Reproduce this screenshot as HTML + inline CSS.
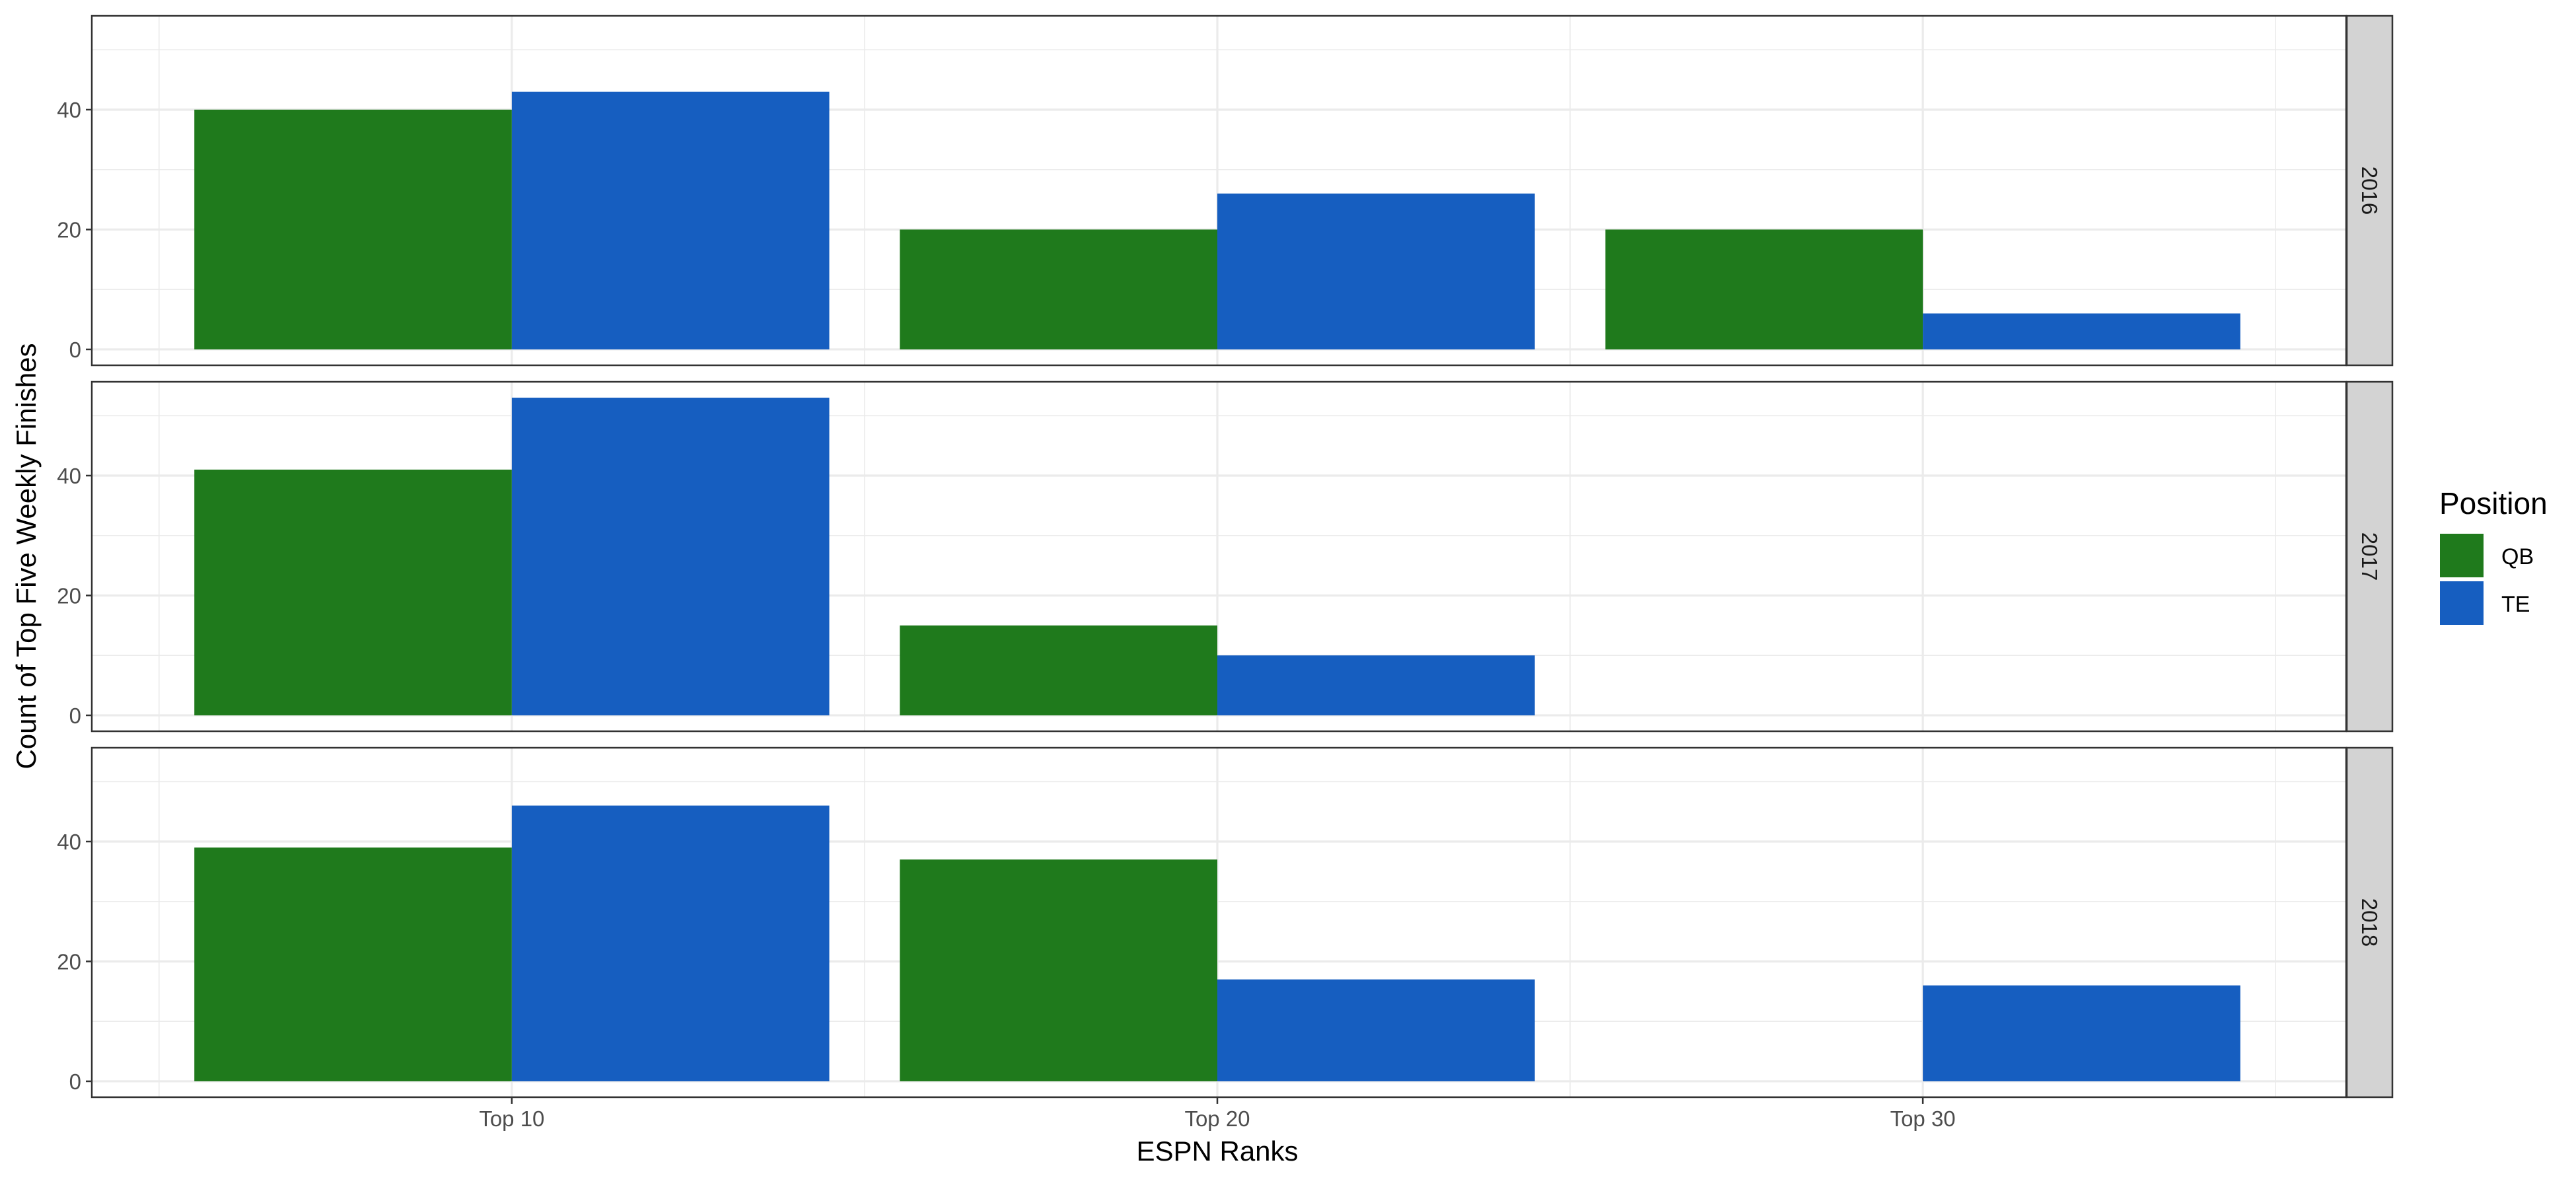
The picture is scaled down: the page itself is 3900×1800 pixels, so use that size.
<!DOCTYPE html>
<html><head><meta charset="utf-8"><style>
html,body{margin:0;padding:0;background:#fff;}
svg{display:block;font-family:"Liberation Sans",Arial,sans-serif;}
</style></head><body>
<svg id="chart" width="3900" height="1800" viewBox="0 0 3900 1800"></svg>
<script>
const categories = ["Top 10","Top 20","Top 30"];
const years = ["2016","2017","2018"];
const qbValues = [[40,20,20],[41,15,0],[39,37,0]];
const teValues = [[43,26,6],[53,10,0],[46,17,16]];
const yTicks = [0,20,40];
const yMinor = [10,30,50];
const seriesNames = ["QB","TE"];
const seriesColors = ["#1F7A1C","#165EC0"];

const NS="http://www.w3.org/2000/svg";
const svg=document.getElementById('chart');
function mk(tag,attrs,parent){const e=document.createElementNS(NS,tag);for(const k in attrs)e.setAttribute(k,attrs[k]);(parent||svg).appendChild(e);return e;}

const pL=134,pR=3552,frameL=139,panelH=529,panelTop0=24,panelStep=554;
const xMin=0.4,xMax=3.6,yMin=-2.65,yMax=55.65;
function xs(v){return pL+(v-xMin)/(xMax-xMin)*(pR-pL);}
function ys(v,top){return top+panelH-(v-yMin)/(yMax-yMin)*panelH;}

years.forEach((yr,pi)=>{
  const top=panelTop0+pi*panelStep;
  const g=mk('g',{});
  
  
  yMinor.forEach(v=>{const l=mk('line',{x1:frameL,x2:pR,y1:ys(v,top),y2:ys(v,top),stroke:'#ebebeb','stroke-width':1.6},g);
    });
  [0.5,1.5,2.5,3.5].forEach(v=>{const l=mk('line',{x1:xs(v),x2:xs(v),y1:top,y2:top+panelH,stroke:'#ebebeb','stroke-width':1.6},g);
    });
  yTicks.forEach(v=>{const l=mk('line',{x1:frameL,x2:pR,y1:ys(v,top),y2:ys(v,top),stroke:'#ebebeb','stroke-width':3.2},g);
    });
  categories.forEach((c,i)=>{const l=mk('line',{x1:xs(i+1),x2:xs(i+1),y1:top,y2:top+panelH,stroke:'#ebebeb','stroke-width':3.2},g);
    });
  categories.forEach((c,i)=>{
    [qbValues[pi][i],teValues[pi][i]].forEach((v,si)=>{
      if(v<=0)return;
      const x0=xs(i+1-0.45+si*0.45),x1=xs(i+1+si*0.45);
      const r=mk('rect',{x:x0,y:ys(v,top),width:x1-x0,height:ys(0,top)-ys(v,top),fill:seriesColors[si]},g);
      
      
    });
  });
  const b=mk('rect',{x:frameL,y:top,width:pR-frameL,height:panelH,fill:'none',stroke:'#333','stroke-width':2.5},g);
  
  yTicks.forEach(v=>{
    const t=mk('line',{x1:frameL-9,x2:frameL,y1:ys(v,top),y2:ys(v,top),stroke:'#333','stroke-width':2.5},g);
    
    const tx=mk('text',{x:frameL-16,y:ys(v,top)+12,'text-anchor':'end','font-size':33,fill:'#4d4d4d'},g);
    tx.textContent=v;
    
  });
  const s=mk('rect',{x:3553,y:top,width:69,height:panelH,fill:'#d3d3d3',stroke:'#333','stroke-width':2.5},g);
  
  const st=mk('text',{x:0,y:0,'text-anchor':'middle','font-size':33,fill:'#1a1a1a',transform:`translate(${3576},${top+panelH/2}) rotate(90)`},g);
  st.textContent=yr;
  
});

const lastBottom=panelTop0+2*panelStep+panelH;
categories.forEach((c,i)=>{
  const t=mk('line',{x1:xs(i+1),x2:xs(i+1),y1:lastBottom,y2:lastBottom+10,stroke:'#333','stroke-width':2.5});
  
  const tx=mk('text',{x:xs(i+1),y:1705,'text-anchor':'middle','font-size':33,fill:'#4d4d4d'});
  tx.textContent=c;
  
});
</script>
<script>
(function(){
const NS="http://www.w3.org/2000/svg";const svg=document.getElementById('chart');
function mk(tag,attrs){const e=document.createElementNS(NS,tag);for(const k in attrs)e.setAttribute(k,attrs[k]);svg.appendChild(e);return e;}
const xt=mk('text',{x:1843,y:1757,'text-anchor':'middle','font-size':42,fill:'#000'});
xt.textContent='ESPN Ranks';


const yt=mk('text',{x:0,y:0,'text-anchor':'middle','font-size':42,fill:'#000',transform:'translate(54,842) rotate(-90)'});
yt.textContent='Count of Top Five Weekly Finishes';


const lt=mk('text',{x:3693,y:778,'font-size':46,fill:'#000'});
lt.textContent='Position';


const names=["QB","TE"],cols=["#1F7A1C","#165EC0"],ys=[808,880];
names.forEach((n,i)=>{
  const r=mk('rect',{x:3694,y:ys[i],width:66,height:66,fill:cols[i]});
  
  
  const t=mk('text',{x:3787,y:ys[i]+46,'font-size':34,fill:'#000'});
  t.textContent=n;
  
  
});
})();
</script>
</body></html>
